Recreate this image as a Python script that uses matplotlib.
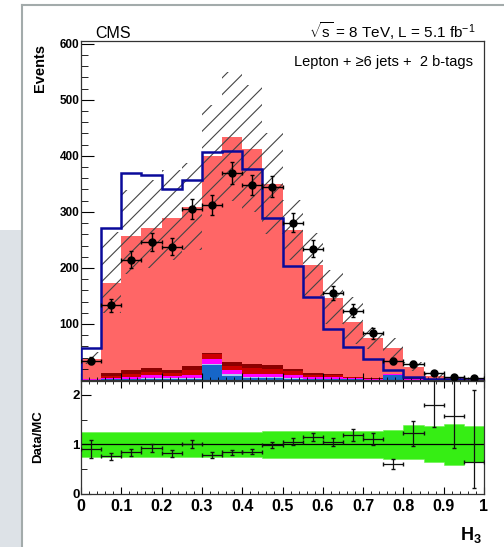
import matplotlib
matplotlib.use("Agg")
import matplotlib.pyplot as plt
from matplotlib.patches import Rectangle
from matplotlib.lines import Line2D
from matplotlib.ticker import MultipleLocator
import numpy as np

plt.rcParams['font.family'] = ['Liberation Sans', 'DejaVu Sans']
plt.rcParams['mathtext.fontset'] = 'custom'
plt.rcParams['mathtext.rm'] = 'Liberation Sans'
plt.rcParams['mathtext.it'] = 'Liberation Sans:italic'
plt.rcParams['mathtext.bf'] = 'Liberation Sans:bold'
plt.rcParams['hatch.linewidth'] = 0.8
plt.rcParams['hatch.color'] = '#444444'

# --- data (20 bins of H3, width 0.05) ---
edges = np.linspace(0, 1, 21)
centers = 0.5 * (edges[:-1] + edges[1:])

ttjets = [36, 162, 240, 251, 272, 285, 351, 402, 383, 323, 248, 193, 135, 98, 72, 46, 21, 6.5, 3.5, 2.8]
bkg_blue = [0.5, 1, 1, 1.5, 1.5, 2, 27, 8, 3, 3, 2, 1.5, 1, 1, 0.5, 9, 0.5, 0.3, 0.2, 0.1]
bkg_lblue = [0.3, 1, 1, 1.5, 1.5, 1.5, 2, 2, 2, 2, 1.5, 1, 1, 0.5, 0.3, 0.5, 0.3, 0.1, 0.1, 0]
bkg_magenta = [0.5, 2, 3, 6, 4, 6, 9, 7, 6, 6, 5, 3, 3, 1.5, 1, 0.5, 1, 0.3, 0.1, 0.1]
bkg_red = [0.5, 4, 6, 6, 5, 8, 9, 8, 10, 9, 7, 4, 4, 1.5, 0.8, 0.5, 0.8, 0.2, 0.1, 0.1]
bkg_darkred = [0.2, 4, 6, 6, 5, 7, 2, 7, 8, 6, 4.5, 2.5, 2, 0.5, 0.4, 0.5, 0.4, 0.1, 0, 0]

unc_hi = [50, 265, 339, 357, 375, 387, 491, 550, 527, 440, 321, 262, 196, 149, 94, 75, 32, 11, 6, 4]
unc_lo = [28, 120, 190, 200, 215, 232, 310, 320, 300, 260, 214, 150, 100, 65, 55, 40, 16, 4, 2, 1.5]

alt_model = [58, 271, 369, 366, 340, 357, 407, 409, 376, 290, 204, 149, 91, 59, 37, 17, 6, 2, 1, 0.5]

data = [34.5, 133, 215, 246, 238, 305, 312, 369, 348, 345, 281, 234, 156, 124, 83, 34, 29, 13, 6, 3]

ratio = [0.905, 0.76, 0.84, 0.92, 0.82, 1.0, 0.78, 0.84, 0.85, 0.98, 1.05, 1.14, 1.05, 1.19, 1.11, 0.60, 1.22, 1.80, 1.57, 0.64]
ratio_err_lo = [0.19, 0.07, 0.07, 0.08, 0.07, 0.08, 0.06, 0.05, 0.05, 0.06, 0.07, 0.08, 0.08, 0.12, 0.12, 0.10, 0.25, 0.45, 0.65, 0.53]
ratio_err_hi = [0.19, 0.07, 0.07, 0.08, 0.07, 0.08, 0.06, 0.05, 0.05, 0.06, 0.07, 0.08, 0.08, 0.12, 0.12, 0.10, 0.25, 0.60, 0.80, 1.45]
band_up = [1.24, 1.24, 1.24, 1.24, 1.24, 1.24, 1.24, 1.24, 1.25, 1.26, 1.27, 1.27, 1.27, 1.27, 1.27, 1.29, 1.38, 1.36, 1.41, 1.36]
band_dn = [0.75, 0.75, 0.75, 0.75, 0.75, 0.75, 0.75, 0.75, 0.74, 0.73, 0.72, 0.72, 0.72, 0.72, 0.72, 0.70, 0.70, 0.63, 0.58, 0.63]

xtick_vals = [0, 0.1, 0.2, 0.3, 0.4, 0.5, 0.6, 0.7, 0.8, 0.9, 1.0]
xtick_labels = ['0', '0.1', '0.2', '0.3', '0.4', '0.5', '0.6', '0.7', '0.8', '0.9', '1']

W, H = 504, 547
fig = plt.figure(figsize=(W / 100, H / 100), dpi=100)

# screenshot frame bits
fig.patches.append(Rectangle((0, 0), 21 / W, (H - 230) / H, transform=fig.transFigure,
                             facecolor='#dde2e7', edgecolor='none', zorder=0))
fig.add_artist(Line2D([22 / W, 22 / W], [0, 1 - 5 / H], color='#a3abab', lw=1.5))
fig.add_artist(Line2D([22 / W, 1], [1 - 5 / H, 1 - 5 / H], color='#a3abab', lw=1.5))

x0, x1 = 81, 484
ax = fig.add_axes([x0 / W, 1 - 380 / H, (x1 - x0) / W, (380 - 41) / H])
axr = fig.add_axes([x0 / W, 1 - 493.6 / H, (x1 - x0) / W, (493.6 - 381) / H])

# stacked MC
layers = [(bkg_blue, '#1666c8'), (bkg_lblue, '#a9c8ef'), (bkg_magenta, '#ff00ff'),
          (bkg_red, '#cc0000'), (bkg_darkred, '#8c0000'), (ttjets, '#ff6666')]
base = np.zeros(20)
for vals, col in layers:
    top = base + np.array(vals)
    ax.stairs(top, edges, baseline=base, fill=True, color=col, lw=0, zorder=1)
    base = top

# MC uncertainty hatch
ax.stairs(unc_hi, edges, baseline=unc_lo, fill=True, facecolor='none',
          edgecolor='#444444', hatch='//', lw=0, zorder=2)

ax.stairs(alt_model, edges, baseline=0, color='#0a0a9a', lw=1.8, zorder=3)

ax.errorbar(centers, data, xerr=0.025, yerr=np.sqrt(data), fmt='o', color='black',
            ms=5, elinewidth=1, capsize=1.5, zorder=4)

ax.set_xlim(0, 1)
ax.set_ylim(0, 605)
ax.set_yticks([100, 200, 300, 400, 500, 600])
ax.yaxis.set_minor_locator(MultipleLocator(20))
ax.set_xticks(xtick_vals)
ax.xaxis.set_minor_locator(MultipleLocator(0.02))
ax.tick_params(axis='both', which='both', direction='in', top=False, right=False)
ax.tick_params(axis='y', which='major', length=9.5, labelsize=8.5, pad=1)
ax.tick_params(axis='y', which='minor', length=5)
ax.tick_params(axis='x', which='major', length=5, labelbottom=False)
ax.tick_params(axis='x', which='minor', length=2.5)
for lab in ax.get_yticklabels():
    lab.set_fontweight('bold')
for sp in ax.spines.values():
    sp.set_color('#333333')
    sp.set_linewidth(0.9)

# ratio panel
axr.stairs(band_up, edges, baseline=band_dn, fill=True, facecolor='#36ee14',
           edgecolor='#66f24a', lw=0.4, zorder=1)
axr.axhline(1, color='black', lw=0.9, zorder=2)
axr.errorbar(centers, ratio, xerr=0.025, yerr=[ratio_err_lo, ratio_err_hi], fmt='none',
             ecolor='#111111', elinewidth=0.9, capsize=1.5, zorder=3)
axr.set_xlim(0, 1)
axr.set_ylim(0, 2.28)
axr.set_yticks([0, 1, 2])
axr.yaxis.set_minor_locator(MultipleLocator(0.5))
axr.set_xticks(xtick_vals, xtick_labels)
axr.xaxis.set_minor_locator(MultipleLocator(0.02))
axr.tick_params(axis='both', which='both', direction='in', top=True, right=False)
axr.tick_params(axis='y', which='major', length=7, labelsize=9.5, pad=1)
axr.tick_params(axis='y', which='minor', length=4)
axr.tick_params(axis='x', which='major', length=5, labelsize=11.5, pad=4)
axr.tick_params(axis='x', which='minor', length=2.5)
for lab in axr.get_xticklabels() + axr.get_yticklabels():
    lab.set_fontweight('bold')
for sp in axr.spines.values():
    sp.set_color('#333333')
    sp.set_linewidth(0.9)

# texts
fig.text(95 / W, 1 - 38 / H, 'CMS', fontsize=11.5, va='baseline', ha='left')
fig.text(476 / W, 1 - 38 / H, r'$\sqrt{\mathrm{s}}$ = 8 TeV, L = 5.1 fb$^{-1}$', fontsize=11,
         va='baseline', ha='right')
fig.text(473 / W, 1 - 66 / H, 'Lepton + \u22656 jets +  2 b-tags', fontsize=10.5,
         va='baseline', ha='right')
fig.text(40 / W, 1 - 44 / H, 'Events', fontsize=10.5, fontweight='bold', rotation=90,
         ha='center', va='top')
fig.text(38 / W, 1 - 437 / H, 'Data/MC', fontsize=9.5, fontweight='bold', rotation=90,
         ha='center', va='center')
fig.text(482 / W, 1 - 540 / H, r'$\mathbf{H_3}$', fontsize=13, ha='right', va='baseline')

fig.savefig('out.png', dpi=100)
